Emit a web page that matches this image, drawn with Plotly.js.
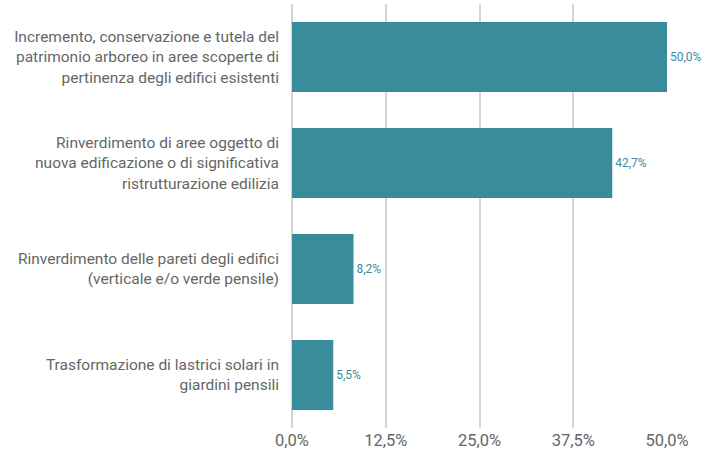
<!DOCTYPE html>
<html><head><meta charset="utf-8">
<script src="https://cdn.plot.ly/plotly-3.0.1.min.js"></script>
<style>body{margin:0}#c{width:708px;height:456px}</style>
</head><body><div id="c"></div>
<script>
const categories = [
  "Incremento, conservazione e tutela del<br>patrimonio arboreo in aree scoperte di<br>pertinenza degli edifici esistenti",
  "Rinverdimento di aree oggetto di<br>nuova edificazione o di significativa<br>ristrutturazione edilizia",
  "Rinverdimento delle pareti degli edifici<br>(verticale e/o verde pensile)",
  "Trasformazione di lastrici solari in<br>giardini pensili"
];
const values = [50.0, 42.7, 8.2, 5.5];
const tickVals = [0, 12.5, 25, 37.5, 50];
const tickText = ["0,0%", "12,5%", "25,0%", "37,5%", "50,0%"];

const fontFam = "Roboto, sans-serif";
Plotly.newPlot('c', [{
  type: 'bar', orientation: 'h',
  y: categories, x: values,
  marker: {color: '#3a8b9c'},
  width: 0.66,
  text: values.map(v => v.toFixed(1).replace('.', ',') + '%'),
  textposition: 'outside',
  cliponaxis: false,
  textfont: {family: fontFam, size: 12, color: '#3a8b9c'},
  hoverinfo: 'skip'
}], {
  width: 708, height: 456,
  margin: {l: 292, r: 41, t: 4, b: 28},
  paper_bgcolor: '#fff', plot_bgcolor: '#fff',
  separators: ',.',
  showlegend: false,
  font: {family: fontFam, color: '#666666', size: 15.5},
  xaxis: {
    range: [0, 50], tickvals: tickVals, ticktext: tickText,
    showgrid: true, gridcolor: '#d4d4d4', gridwidth: 2,
    zeroline: true, zerolinecolor: '#d4d4d4', zerolinewidth: 2,
    showline: false, ticks: '', fixedrange: true,
    tickfont: {size: 16.5, color: '#666666', family: fontFam}
  },
  yaxis: {
    autorange: 'reversed', showgrid: false, zeroline: false, showline: false,
    ticks: '', ticklen: 0, ticklabelstandoff: 12,
    tickfont: {size: 15.5, color: '#666666', family: fontFam}
  }
}, {staticPlot: true});
</script></body></html>
